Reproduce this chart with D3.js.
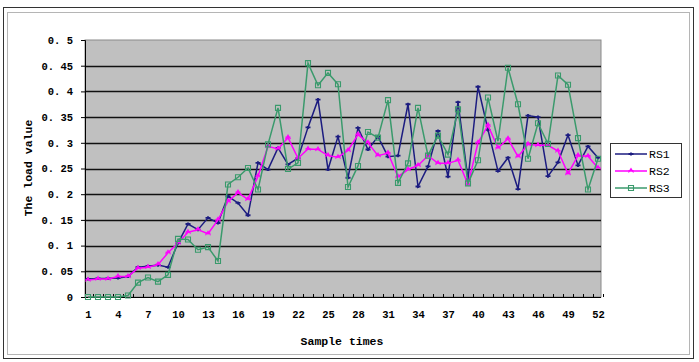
<!DOCTYPE html>
<html>

<head>
    <meta charset="UTF-8">
    <title>Load value per sample time</title>
    <script src="https://d3js.org/d3.v7.min.js"></script>
    <style>
        body { margin: 0; background: #fff; }
        text { font-family: "Liberation Mono", "DejaVu Sans Mono", monospace; fill: #000; }
    </style>
</head>

<body>
    <div class="canvas"></div>

    <script>
        // data
        const categories = [1, 2, 3, 4, 5, 6, 7, 8, 9, 10, 11, 12, 13, 14, 15, 16, 17, 18, 19, 20,
            21, 22, 23, 24, 25, 26, 27, 28, 29, 30, 31, 32, 33, 34, 35, 36, 37, 38, 39, 40,
            41, 42, 43, 44, 45, 46, 47, 48, 49, 50, 51, 52];
        const xTickLabels = [1, 4, 7, 10, 13, 16, 19, 22, 25, 28, 31, 34, 37, 40, 43, 46, 49, 52];
        const yTicks = [0, 0.05, 0.1, 0.15, 0.2, 0.25, 0.3, 0.35, 0.4, 0.45, 0.5];

        const rs1 = [0.035, 0.036, 0.036, 0.037, 0.04, 0.058, 0.06, 0.062, 0.058, 0.105,
            0.142, 0.131, 0.154, 0.144, 0.196, 0.183, 0.159, 0.261, 0.248, 0.29,
            0.258, 0.27, 0.33, 0.384, 0.248, 0.312, 0.232, 0.329, 0.287, 0.312,
            0.273, 0.275, 0.375, 0.215, 0.254, 0.323, 0.234, 0.379, 0.229, 0.409,
            0.325, 0.245, 0.271, 0.21, 0.353, 0.35, 0.235, 0.262, 0.315, 0.256,
            0.293, 0.271];
        const rs2 = [0.033, 0.035, 0.035, 0.04, 0.04, 0.056, 0.058, 0.063, 0.086, 0.105,
            0.126, 0.131, 0.123, 0.15, 0.186, 0.203, 0.19, 0.235, 0.293, 0.288,
            0.31, 0.27, 0.288, 0.287, 0.275, 0.272, 0.285, 0.316, 0.3, 0.275,
            0.28, 0.234, 0.248, 0.256, 0.275, 0.26, 0.26, 0.266, 0.219, 0.3,
            0.334, 0.29, 0.308, 0.273, 0.297, 0.295, 0.295, 0.284, 0.24, 0.275,
            0.274, 0.251];
        const rs3 = [0, 0, 0, 0, 0.003, 0.028, 0.038, 0.03, 0.043, 0.113,
            0.112, 0.092, 0.097, 0.07, 0.219, 0.233, 0.251, 0.209, 0.297, 0.368,
            0.249, 0.261, 0.455, 0.412, 0.436, 0.414, 0.214, 0.255, 0.321, 0.31,
            0.383, 0.222, 0.26, 0.368, 0.275, 0.314, 0.277, 0.365, 0.221, 0.266,
            0.388, 0.303, 0.446, 0.375, 0.269, 0.338, 0.298, 0.431, 0.413, 0.309,
            0.209, 0.269];

        const series = [
            { name: "RS1", values: rs1, color: "#1c1c80", marker: "dash" },
            { name: "RS2", values: rs2, color: "#ff00ff", marker: "star" },
            { name: "RS3", values: rs3, color: "#3a9a6c", marker: "square" }
        ];

        // dimensions
        const width = 699;
        const height = 362;
        const margin = { top: 40, right: 98, bottom: 65, left: 85 };
        const graphWidth = width - margin.left - margin.right;
        const graphHeight = height - margin.top - margin.bottom;

        const svg = d3.select(".canvas")
            .append("svg")
            .attr("width", width)
            .attr("height", height);

        // outer frame
        svg.append("rect")
            .attr("x", 3.5).attr("y", 7.5)
            .attr("width", 690).attr("height", 351)
            .attr("fill", "#fff")
            .attr("stroke", "#333");
        svg.append("rect")
            .attr("x", 7.5).attr("y", 12.5)
            .attr("width", 682).attr("height", 342)
            .attr("fill", "none")
            .attr("stroke", "#b5b5b5");

        const graph = svg.append("g")
            .attr("transform", `translate(${margin.left}, ${margin.top})`);

        // scales
        const x = d3.scalePoint()
            .domain(categories)
            .range([0, graphWidth])
            .padding(0.3);

        const y = d3.scaleLinear()
            .domain([0, 0.5])
            .range([graphHeight, 0]);

        // plot area
        graph.append("rect")
            .attr("width", graphWidth)
            .attr("height", graphHeight)
            .attr("fill", "#c0c0c0")
            .attr("stroke", "#8a8a8a");

        // gridlines
        graph.append("g")
            .selectAll("line")
            .data(yTicks.filter(d => d > 0 && d < 0.5))
            .join("line")
            .attr("x1", 0)
            .attr("x2", graphWidth)
            .attr("y1", d => Math.round(y(d)) + 0.5)
            .attr("y2", d => Math.round(y(d)) + 0.5)
            .attr("stroke", "#111")
            .attr("stroke-width", 1.3);

        // y axis
        const yAxis = d3.axisLeft(y)
            .tickValues(yTicks)
            .tickSize(4)
            .tickPadding(8)
            .tickFormat(d => d === 0 ? "0" : d3.format("~g")(d).replace(".", ". "));

        const yAxisGroup = graph.append("g").call(yAxis);
        yAxisGroup.select(".domain").attr("stroke", "#000");
        yAxisGroup.selectAll(".tick line").attr("stroke", "#000");
        yAxisGroup.selectAll("text")
            .attr("font-size", "10.5px")
            .attr("font-weight", "bold")
            .attr("font-family", "Liberation Mono, monospace");

        // x axis: labels every 3rd category, small inward ticks between categories
        const xAxis = d3.axisBottom(x)
            .tickValues(xTickLabels)
            .tickSize(0)
            .tickPadding(14);

        const xAxisGroup = graph.append("g")
            .attr("transform", `translate(0, ${graphHeight})`)
            .call(xAxis);
        xAxisGroup.select(".domain").remove();
        xAxisGroup.selectAll("text")
            .attr("font-size", "10.5px")
            .attr("font-weight", "bold")
            .attr("font-family", "Liberation Mono, monospace");

        graph.append("line")
            .attr("x1", 0).attr("x2", graphWidth)
            .attr("y1", graphHeight + 0.5).attr("y2", graphHeight + 0.5)
            .attr("stroke", "#000");

        graph.append("g")
            .selectAll("line")
            .data(categories)
            .join("line")
            .attr("x1", d => Math.round(x(d) + x.step() / 2) + 0.5)
            .attr("x2", d => Math.round(x(d) + x.step() / 2) + 0.5)
            .attr("y1", graphHeight)
            .attr("y2", graphHeight - 3)
            .attr("stroke", "#000");

        // lines
        const line = d3.line()
            .x((d, i) => x(categories[i]))
            .y(d => y(d));

        const markerPath = (type) => {
            if (type === "dash") return "M-2.5,0H2.5M0,-1.5V1.5";
            if (type === "star") return "M-2.5,1.5L0,-2.5L2.5,1.5M-2.5,-0.5H2.5";
            return "M-2.5,-2.5H2.5V2.5H-2.5Z";
        };

        series.forEach(s => {
            const g = graph.append("g");
            g.append("path")
                .datum(s.values)
                .attr("d", line)
                .attr("fill", "none")
                .attr("stroke", s.color)
                .attr("stroke-width", 1.5);

            g.selectAll("path.mk")
                .data(s.values)
                .join("path")
                .attr("class", "mk")
                .attr("transform", (d, i) => `translate(${x(categories[i])}, ${y(d)})`)
                .attr("d", markerPath(s.marker))
                .attr("fill", "none")
                .attr("stroke", s.color)
                .attr("stroke-width", s.marker === "dash" ? 1.8 : 1.1);
        });

        // axis titles
        svg.append("text")
            .attr("x", 342)
            .attr("y", 345)
            .attr("text-anchor", "middle")
            .attr("font-size", "11.5px")
            .attr("font-weight", "bold")
            .text("Sample times");

        svg.append("text")
            .attr("transform", "translate(32, 168) rotate(-90)")
            .attr("text-anchor", "middle")
            .attr("font-size", "11.5px")
            .attr("font-weight", "bold")
            .text("The load value");

        // legend
        const legend = svg.append("g")
            .attr("transform", "translate(610, 143)");

        legend.append("rect")
            .attr("x", 0.5).attr("y", 0.5)
            .attr("width", 71).attr("height", 54)
            .attr("fill", "#fff")
            .attr("stroke", "#333");

        const items = legend.selectAll("g.item")
            .data(series)
            .join("g")
            .attr("class", "item")
            .attr("transform", (d, i) => `translate(0, ${11 + i * 17})`);

        items.append("line")
            .attr("x1", 5).attr("x2", 37)
            .attr("stroke", d => d.color)
            .attr("stroke-width", 1.5);

        items.append("path")
            .attr("transform", "translate(21, 0)")
            .attr("d", d => markerPath(d.marker))
            .attr("fill", "none")
            .attr("stroke", d => d.color)
            .attr("stroke-width", d => d.marker === "dash" ? 1.8 : 1.1);

        items.append("text")
            .attr("x", 39)
            .attr("y", 4)
            .attr("font-size", "11.5px")
            .text(d => d.name);
    </script>
</body>

</html>
